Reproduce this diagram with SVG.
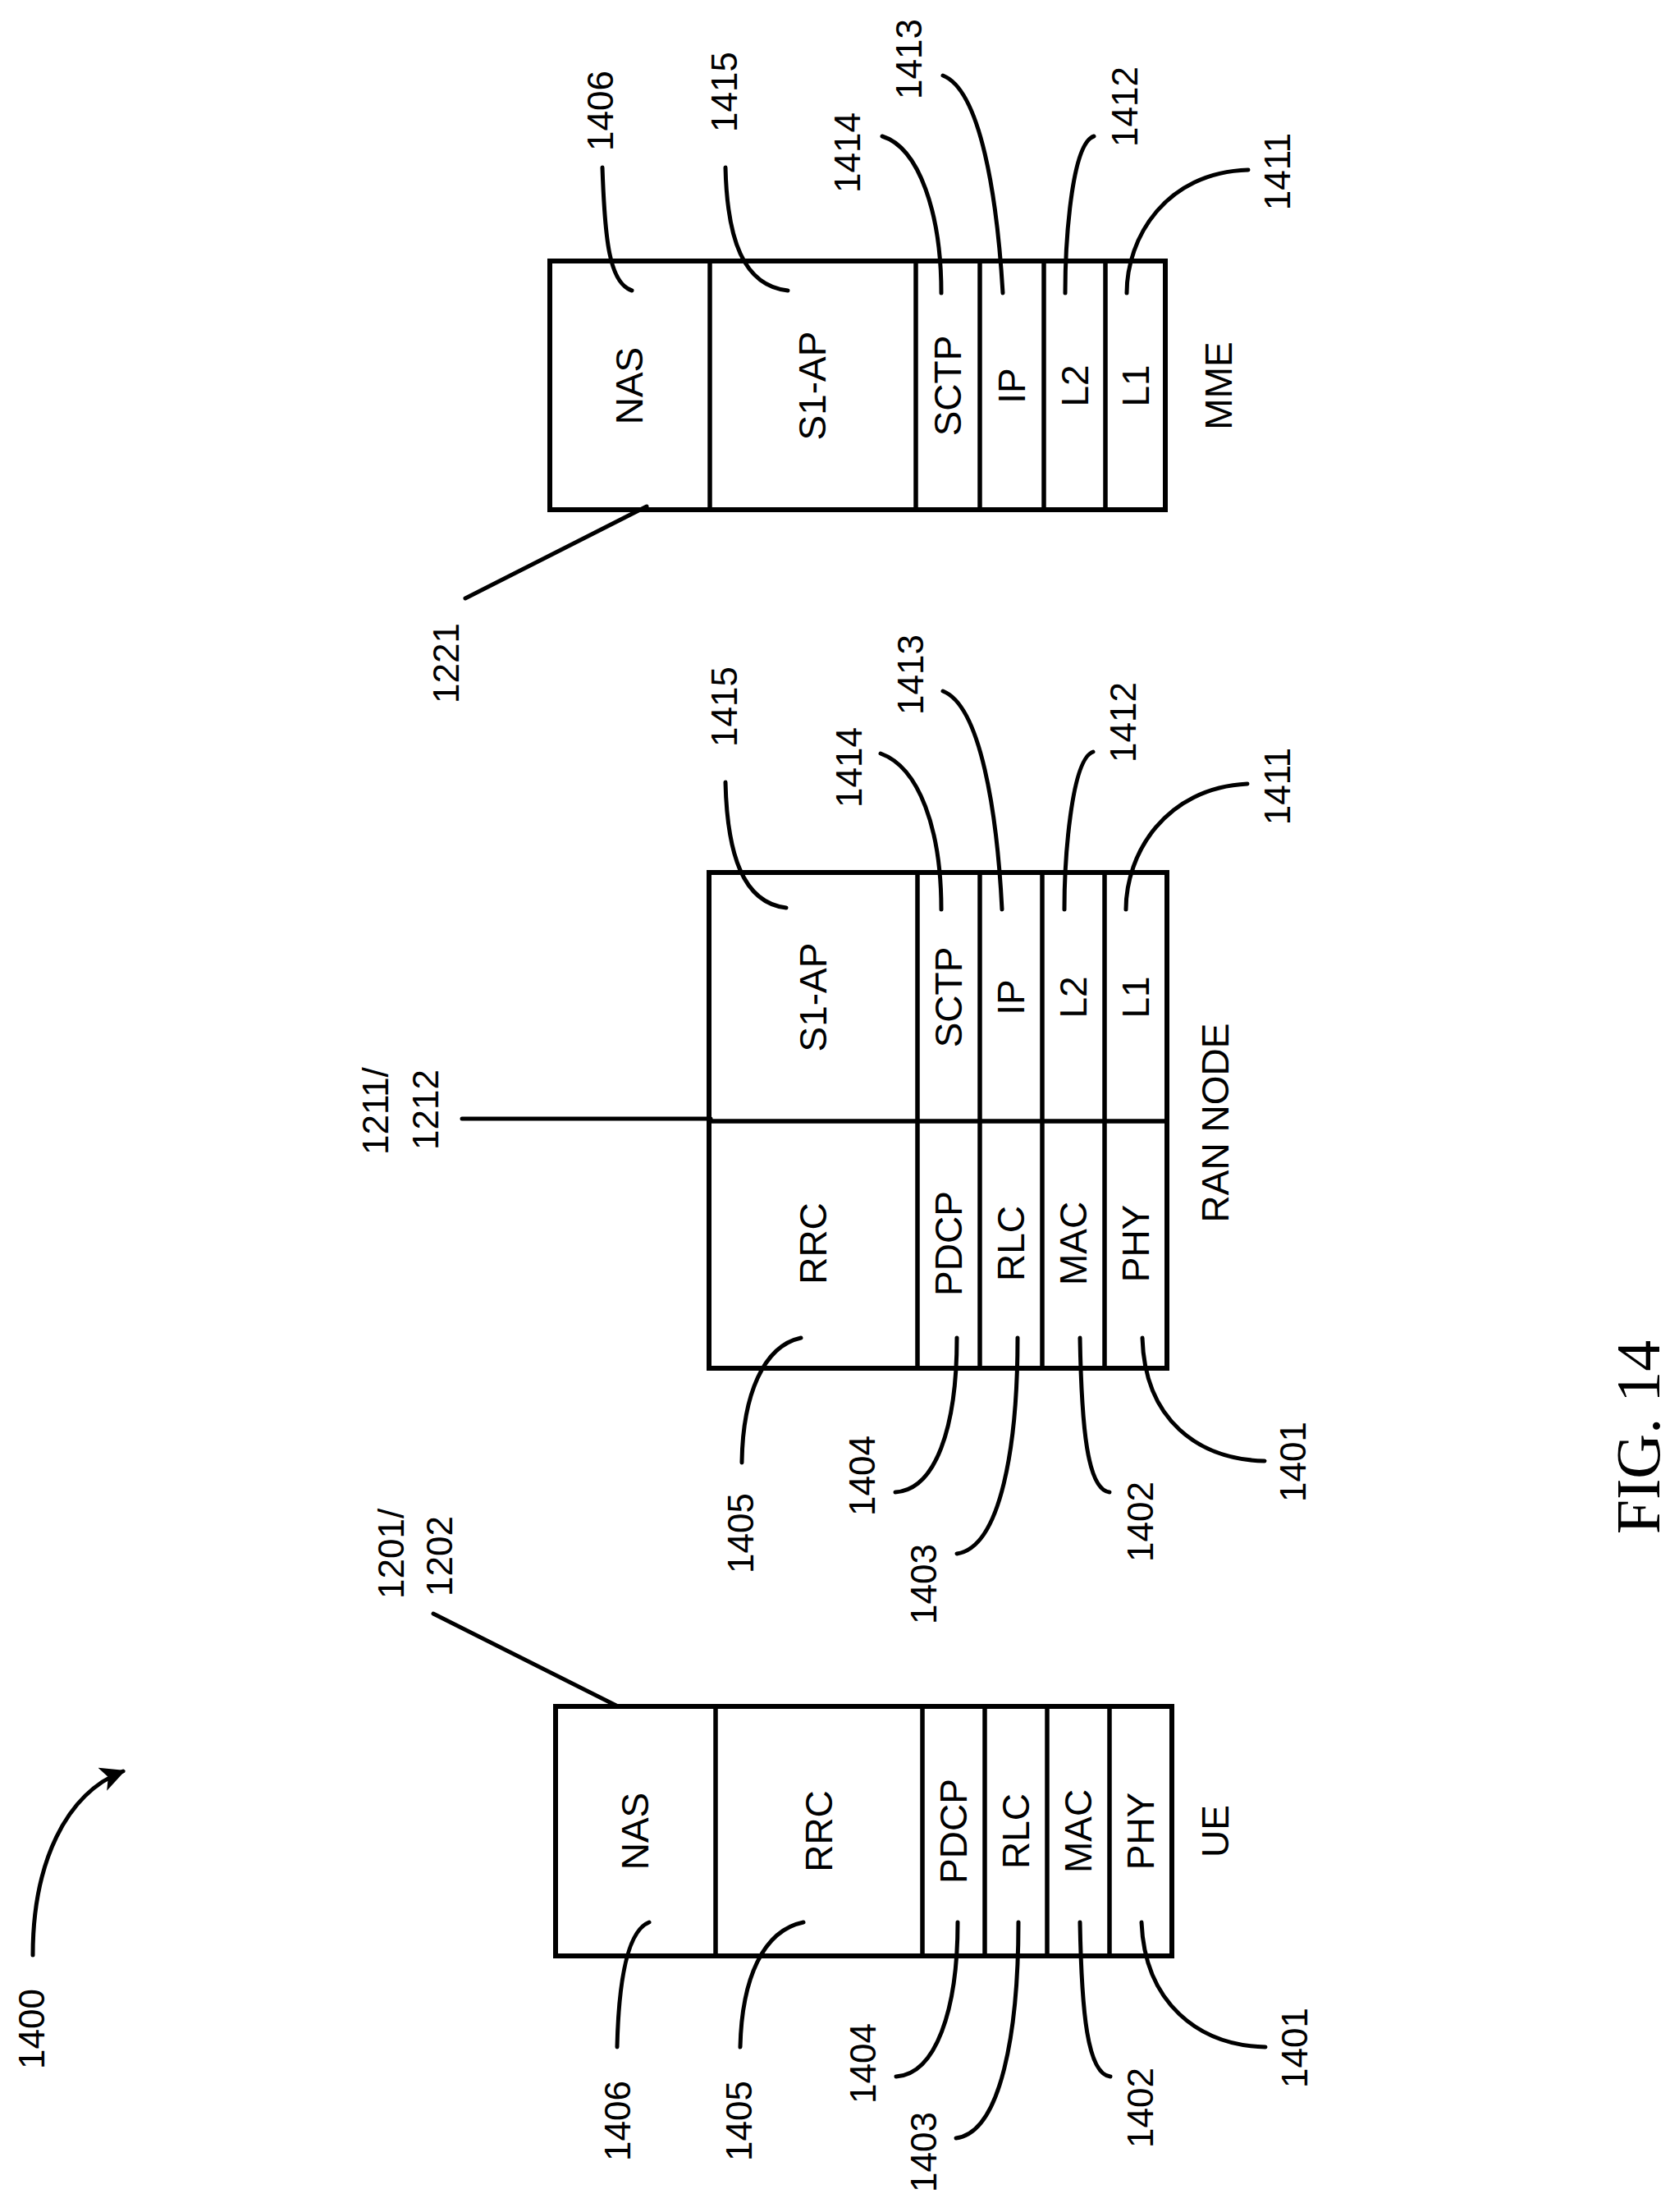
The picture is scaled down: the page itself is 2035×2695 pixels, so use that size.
<svg xmlns="http://www.w3.org/2000/svg" width="2035" height="2695" viewBox="0 0 2035 2695">
<style>
.box{fill:none;stroke:#000;stroke-width:6;stroke-linejoin:miter}
.div{stroke:#000;stroke-width:5.5}
.ld{fill:none;stroke:#000;stroke-width:5;stroke-linecap:round}
text{font-family:"Liberation Sans",Arial,sans-serif;fill:#000;dominant-baseline:central}
.l{font-size:46px;text-anchor:middle}
.n{font-size:44px;text-anchor:middle}
.s{font-size:44px;text-anchor:start}
.fig{font-family:"Liberation Serif","Times New Roman",serif;font-size:76px;text-anchor:middle}
</style>
<defs>
<marker id="ah" viewBox="0 0 10 10" refX="9" refY="5" markerWidth="6" markerHeight="6" orient="auto" markerUnits="strokeWidth">
<path d="M0,0 L10,5 L0,10 L2.5,5 Z" fill="#000"/>
</marker>
</defs>
<rect width="2035" height="2695" fill="#fff"/>

<g id="mme">
<rect class="box" x="670" y="318" width="750" height="303"/>
<line class="div" x1="865" y1="318" x2="865" y2="621"/>
<line class="div" x1="1116" y1="318" x2="1116" y2="621"/>
<line class="div" x1="1194" y1="318" x2="1194" y2="621"/>
<line class="div" x1="1272" y1="318" x2="1272" y2="621"/>
<line class="div" x1="1347" y1="318" x2="1347" y2="621"/>
<text class="l" transform="translate(767,470) rotate(-90)">NAS</text>
<text class="l" transform="translate(990,470) rotate(-90)">S1-AP</text>
<text class="l" transform="translate(1155,470) rotate(-90)">SCTP</text>
<text class="l" transform="translate(1233,470) rotate(-90)">IP</text>
<text class="l" transform="translate(1310,470) rotate(-90)">L2</text>
<text class="l" transform="translate(1384,470) rotate(-90)">L1</text>
<text class="l" transform="translate(1485,470) rotate(-90)">MME</text>
</g>

<g id="ran">
<rect class="box" x="864" y="1063" width="558" height="604"/>
<line class="div" x1="864" y1="1366" x2="1422" y2="1366"/>
<line class="div" x1="1118" y1="1063" x2="1118" y2="1667"/>
<line class="div" x1="1194" y1="1063" x2="1194" y2="1667"/>
<line class="div" x1="1270" y1="1063" x2="1270" y2="1667"/>
<line class="div" x1="1346" y1="1063" x2="1346" y2="1667"/>
<text class="l" transform="translate(991,1215) rotate(-90)">S1-AP</text>
<text class="l" transform="translate(1156,1215) rotate(-90)">SCTP</text>
<text class="l" transform="translate(1232,1215) rotate(-90)">IP</text>
<text class="l" transform="translate(1308,1215) rotate(-90)">L2</text>
<text class="l" transform="translate(1384,1215) rotate(-90)">L1</text>
<text class="l" transform="translate(991,1515) rotate(-90)">RRC</text>
<text class="l" transform="translate(1156,1515) rotate(-90)">PDCP</text>
<text class="l" transform="translate(1232,1515) rotate(-90)">RLC</text>
<text class="l" transform="translate(1308,1515) rotate(-90)">MAC</text>
<text class="l" transform="translate(1384,1515) rotate(-90)">PHY</text>
<text class="l" transform="translate(1481,1368) rotate(-90)">RAN NODE</text>
</g>

<g id="ue">
<rect class="box" x="677" y="2079" width="751" height="304"/>
<line class="div" x1="872" y1="2079" x2="872" y2="2383"/>
<line class="div" x1="1124" y1="2079" x2="1124" y2="2383"/>
<line class="div" x1="1200" y1="2079" x2="1200" y2="2383"/>
<line class="div" x1="1276" y1="2079" x2="1276" y2="2383"/>
<line class="div" x1="1352" y1="2079" x2="1352" y2="2383"/>
<text class="l" transform="translate(774,2231) rotate(-90)">NAS</text>
<text class="l" transform="translate(998,2231) rotate(-90)">RRC</text>
<text class="l" transform="translate(1162,2231) rotate(-90)">PDCP</text>
<text class="l" transform="translate(1238,2231) rotate(-90)">RLC</text>
<text class="l" transform="translate(1314,2231) rotate(-90)">MAC</text>
<text class="l" transform="translate(1390,2231) rotate(-90)">PHY</text>
<text class="l" transform="translate(1481,2231) rotate(-90)">UE</text>
</g>

<g id="labels">
<text class="n" transform="translate(731,135) rotate(-90)">1406</text>
<text class="n" transform="translate(882,112) rotate(-90)">1415</text>
<text class="n" transform="translate(1032,186) rotate(-90)">1414</text>
<text class="n" transform="translate(1107,72) rotate(-90)">1413</text>
<text class="n" transform="translate(1370,130) rotate(-90)">1412</text>
<text class="n" transform="translate(1556,209) rotate(-90)">1411</text>
<text class="n" transform="translate(543,808) rotate(-90)">1221</text>

<text class="n" transform="translate(882,861) rotate(-90)">1415</text>
<text class="n" transform="translate(1034,935) rotate(-90)">1414</text>
<text class="n" transform="translate(1109,822) rotate(-90)">1413</text>
<text class="n" transform="translate(1368,880) rotate(-90)">1412</text>
<text class="n" transform="translate(1556,958) rotate(-90)">1411</text>
<text class="s" transform="translate(457,1407) rotate(-90)">1211/</text>
<text class="s" transform="translate(518,1401) rotate(-90)">1212</text>

<text class="n" transform="translate(902,1868) rotate(-90)">1405</text>
<text class="n" transform="translate(1050,1798) rotate(-90)">1404</text>
<text class="n" transform="translate(1125,1930) rotate(-90)">1403</text>
<text class="n" transform="translate(1389,1854) rotate(-90)">1402</text>
<text class="n" transform="translate(1575,1781) rotate(-90)">1401</text>

<text class="s" transform="translate(476,1948) rotate(-90)">1201/</text>
<text class="s" transform="translate(535,1945) rotate(-90)">1202</text>
<text class="n" transform="translate(752,2584) rotate(-90)">1406</text>
<text class="n" transform="translate(900,2584) rotate(-90)">1405</text>
<text class="n" transform="translate(1051,2514) rotate(-90)">1404</text>
<text class="n" transform="translate(1125,2622) rotate(-90)">1403</text>
<text class="n" transform="translate(1389,2568) rotate(-90)">1402</text>
<text class="n" transform="translate(1577,2495) rotate(-90)">1401</text>

<text class="n" transform="translate(38,2472) rotate(-90)">1400</text>
<text class="fig" transform="translate(1996,1751) rotate(-90)">FIG. 14</text>
</g>

<g id="connectors">
<path class="ld" d="M734,204 C737,290 742,345 770,354"/>
<path class="ld" d="M884,204 C886,290 905,348 960,354"/>
<path class="ld" d="M1075,166 C1120,180 1147,260 1147,357"/>
<path class="ld" d="M1149,92 C1195,110 1215,240 1222,357"/>
<path class="ld" d="M1333,166 C1305,175 1298,300 1298,357"/>
<path class="ld" d="M1521,207 C1420,210 1373,290 1373,357"/>
<line class="ld" x1="788" y1="617" x2="567" y2="729"/>

<path class="ld" d="M884,953 C886,1040 905,1100 958,1106"/>
<path class="ld" d="M1073,918 C1120,935 1147,1010 1147,1108"/>
<path class="ld" d="M1149,842 C1195,860 1215,990 1221,1108"/>
<path class="ld" d="M1332,916 C1305,925 1297,1050 1297,1108"/>
<path class="ld" d="M1520,955 C1420,960 1372,1040 1372,1108"/>
<line class="ld" x1="563" y1="1363" x2="866" y2="1363"/>

<path class="ld" d="M976,1630 C930,1640 905,1700 904,1782"/>
<path class="ld" d="M1166,1630 C1166,1740 1140,1815 1091,1818"/>
<path class="ld" d="M1240,1630 C1240,1760 1220,1885 1166,1893"/>
<path class="ld" d="M1316,1630 C1318,1740 1325,1815 1352,1818"/>
<path class="ld" d="M1392,1630 C1395,1730 1460,1778 1541,1780"/>

<line class="ld" x1="528" y1="1966" x2="751" y2="2078"/>
<path class="ld" d="M791,2342 C765,2352 754,2410 752,2494"/>
<path class="ld" d="M979,2342 C930,2352 904,2410 902,2494"/>
<path class="ld" d="M1167,2342 C1167,2450 1140,2527 1092,2530"/>
<path class="ld" d="M1241,2342 C1241,2475 1220,2598 1165,2605"/>
<path class="ld" d="M1316,2342 C1318,2452 1325,2527 1353,2530"/>
<path class="ld" d="M1391,2342 C1395,2440 1460,2492 1542,2494"/>

<path class="ld" d="M40,2382 C40,2270 80,2185 150,2158" marker-end="url(#ah)"/>
</g>
</svg>
